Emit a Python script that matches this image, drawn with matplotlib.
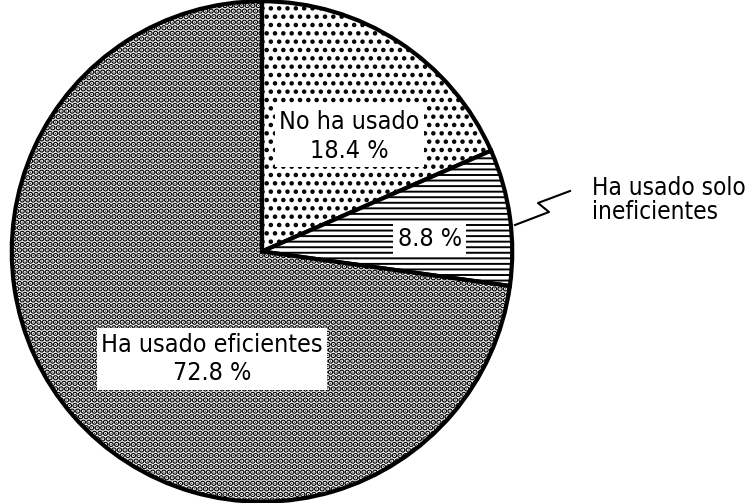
import matplotlib
matplotlib.use("Agg")
import matplotlib.pyplot as plt

labels = ["No ha usado", "Ha usado solo\nineficientes", "Ha usado eficientes"]
values = [18.4, 8.8, 72.8]
pct_text = ["18.4 %", "8.8 %", "72.8 %"]
hatches = ["..", "---", "..."]
hatch_lw = [2.0, 1.4, 3.0]

plt.rcParams['font.family'] = ['DejaVu Sans']
plt.rcParams['font.stretch'] = 'condensed'
plt.rcParams['hatch.linewidth'] = 2.0

fig = plt.figure(figsize=(7.55, 5.03), dpi=100)
ax = fig.add_axes([10 / 755, 0.0, 504 / 755, 1.0])
wedges, _ = ax.pie(values, startangle=90, counterclock=False, radius=1.0,
                   colors=["white"] * 3,
                   wedgeprops=dict(edgecolor="black", linewidth=3))
for w, h, lw in zip(wedges, hatches, hatch_lw):
    w.set_hatch(h)
    if hasattr(w, "set_hatch_linewidth"):
        w.set_hatch_linewidth(lw)
ax.set_xlim(-1.005, 1.005)
ax.set_ylim(-1.005, 1.005)
ax.set_aspect("equal")
ax.axis("off")

box = dict(facecolor="white", edgecolor="none", pad=3)
fs = 18
ax.text(0.35, 0.46, labels[0] + "\n" + pct_text[0], ha="center", va="center",
        fontsize=fs, bbox=box, linespacing=1.25)
ax.text(0.67, 0.05, pct_text[1], ha="center", va="center", fontsize=fs, bbox=box)
ax.text(-0.2, -0.43, labels[2] + "\n" + pct_text[2], ha="center", va="center",
        fontsize=fs, bbox=box, linespacing=1.25)

# zigzag leader to the outside label
fig.add_artist(plt.Line2D([515 / 755, 549 / 755, 538 / 755, 570 / 755],
                          [1 - 225 / 503, 1 - 212 / 503, 1 - 203 / 503, 1 - 191 / 503],
                          color="black", lw=1.5))
fig.text(592 / 755, 1 - 200 / 503, labels[1], ha="left", va="center",
         fontsize=17.5, linespacing=1.0)

fig.savefig("out.png", dpi=100)
